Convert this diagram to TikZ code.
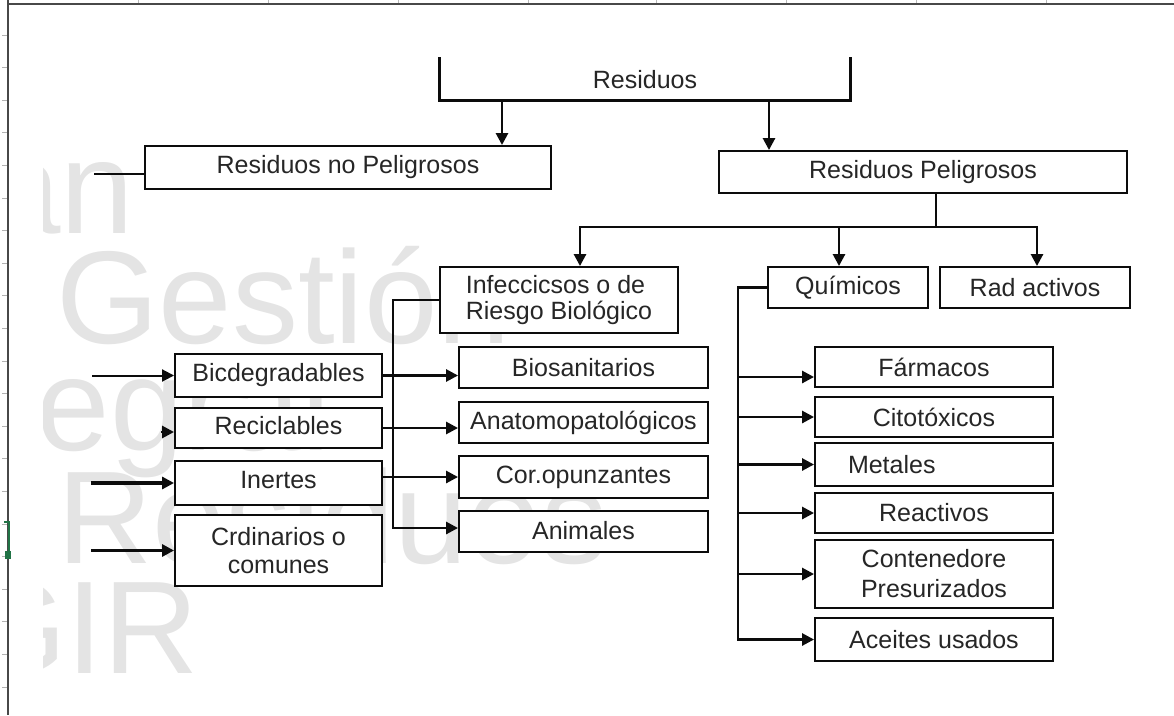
\documentclass[tikz,border=0pt]{standalone}
\usepackage{fontspec}
\setmainfont{Liberation Sans}
\usetikzlibrary{positioning,arrows.meta}
\definecolor{linea}{RGB}{12,12,12}
\definecolor{marca}{RGB}{228,228,228}
\definecolor{marco}{RGB}{72,72,72}
\definecolor{verdexl}{RGB}{33,115,70}

\begin{document}
\begin{tikzpicture}[x=1pt, y=-1pt,
    caja/.style={draw=linea, fill=white, line width=1.9pt, inner sep=0pt,
                 font=\fontsize{25}{28}\selectfont, text=black!85},
    rel/.style={line width=2.7pt, color=linea, line cap=rect},
    flecha/.style={rel, -{Triangle[length=12pt,width=12pt]}},
    fondo/.style={text=marca, font=\fontsize{132}{132}\selectfont, anchor=base west, inner sep=0pt}]
  \useasboundingbox (0,0) rectangle (1174,715);
  % hoja de calculo
  \draw[marco, line width=2pt] (8,0) -- (8,715);
  \draw[marco, line width=2pt] (8,4) -- (1174,4);
  \foreach \x in {138,268,398,528,656,786,916,1046}
    \draw[gray!55, line width=1pt] (\x,0) -- (\x,3);
  \foreach \k in {0,...,20}
    \draw[gray!60, line width=0.8pt] (2,{35+32.6*\k}) -- (7,{35+32.6*\k});
  \draw[verdexl, line width=2pt] (4,522) -- (9,522) -- (9,552);
  \fill[verdexl] (5,551) rectangle (11,559);
  % marca de agua
  \begin{scope}
    \clip (43,120) rectangle (1174,700);
    \node[fondo] (m1) at (-130,233) {Plan};
    \node[fondo] (m2) at (56,343) {Gestión};
    \node[fondo] (m3) at (-110,450) {Integral};
    \node[fondo] (m4) at (57,563) {Residuos};
    \node[fondo] (m5) at (-124,673) {PGIR};
  \end{scope}
  % nivel superior
  \node[inner sep=0pt, minimum width=410pt, minimum height=41pt,
        font=\fontsize{25}{28}\selectfont, text=black!85] (res) at (645,79.5) {Residuos};
  \draw[rel] (res.north west) -- (res.south west) -- (res.south east) -- (res.north east);
  \node[caja, minimum width=406pt, minimum height=43pt] (rnp) at (348,167.5) {Residuos no Peligrosos};
  \node[caja, minimum width=408pt, minimum height=42pt] (rp) at (923,172) {Residuos Peligrosos};
  \coordinate (f1) at (502,100);
  \coordinate (f2) at (769,100);
  \draw[flecha] (f1) -- (f1 |- rnp.north);
  \draw[flecha] (f2) -- (f2 |- rp.north);
  \coordinate (cabo) at (95,174);
  \draw[rel] (cabo) -- (cabo -| rnp.west);
  % peligrosos
  \node[caja, minimum width=238pt, minimum height=66pt, align=left,
        font=\fontsize{25}{26}\selectfont] (inf) at (559,300) {Infeccicsos o de\\Riesgo Biológico};
  \node[caja, minimum width=160pt, minimum height=41pt] (qui) at (848,287.5) {Químicos};
  \node[caja, minimum width=190pt, minimum height=41pt] (rad) at (1035,287.5) {Rad activos};
  \coordinate (rama) at (936,227);
  \coordinate (r1) at (580,227);
  \coordinate (r2) at (839,227);
  \coordinate (r3) at (1037,227);
  \draw[rel] (rp.south -| rama) -- (rama);
  \draw[rel] (r1) -- (r3);
  \draw[flecha] (r1) -- (r1 |- inf.north);
  \draw[flecha] (r2) -- (r2 |- qui.north);
  \draw[flecha] (r3) -- (r3 |- rad.north);
  % no peligrosos
  \node[caja, minimum width=207pt, minimum height=43pt] (bic) at (278.5,375.5) {Bicdegradables};
  \node[caja, minimum width=207pt, minimum height=40pt] (rec) at (278.5,428) {\raisebox{5pt}{Reciclables}};
  \node[caja, minimum width=207pt, minimum height=44pt] (ine) at (278.5,483) {\raisebox{6pt}{Inertes}};
  \node[caja, minimum width=207pt, minimum height=71pt, align=center] (ord) at (278.5,550.5) {Crdinarios o\\comunes};
  \coordinate (izq) at (93,0);
  \draw[flecha, line width=2pt] (bic.west -| izq) -- (bic.west);
  \draw[flecha] ([xshift=-5pt,yshift=-4pt]rec.west) -- ([yshift=-4pt]rec.west);
  \draw[flecha, line width=3.4pt] (ine.west -| izq) -- (ine.west);
  \draw[flecha, line width=3.4pt] (ord.west -| izq) -- (ord.west);
  % riesgo biologico
  \node[caja, minimum width=249pt, minimum height=41pt] (bio) at (583.5,367.5) {\raisebox{-7pt}{Biosanitarios}};
  \node[caja, minimum width=249pt, minimum height=41pt] (ana) at (583.5,422.5) {Anatomopatológicos};
  \node[caja, minimum width=249pt, minimum height=42pt] (cor) at (583.5,477) {Cor.opunzantes};
  \node[caja, minimum width=249pt, minimum height=41pt] (ani) at (583.5,531.5) {\raisebox{3pt}{Animales}};
  \coordinate (tronco) at (393,528);
  \draw[flecha] (inf.west) -| (tronco) -- (tronco -| ani.west);
  \draw[flecha] (bic.east) -- (bic.east -| bio.west);
  \draw[flecha] (rec.east) -- (rec.east -| ana.west);
  \draw[flecha] (cor.west -| ine.east) -- (cor.west);
  % quimicos
  \node[caja, minimum width=238pt, minimum height=40pt] (far) at (934,367) {Fármacos};
  \node[caja, minimum width=238pt, minimum height=40pt] (cit) at (934,417) {Citotóxicos};
  \node[caja, minimum width=238pt, minimum height=43pt] (met) at (934,464.5) {\makebox[172pt][l]{Metales}};
  \node[caja, minimum width=238pt, minimum height=40pt] (rea) at (934,513) {Reactivos};
  \node[caja, minimum width=238pt, minimum height=68pt, align=center,
        font=\fontsize{25}{30}\selectfont] (con) at (934,574) {Contenedore\\Presurizados};
  \node[caja, minimum width=238pt, minimum height=43pt] (ace) at (934,639.5) {Aceites usados};
  \coordinate (eje) at (738,0);
  \draw[flecha] (qui.west) -| (ace.west -| eje) -- (ace.west);
  \draw[flecha] ([yshift=-10pt]far.west -| eje) -- ([yshift=-10pt]far.west);
  \foreach \n in {cit,met,rea,con}
    \draw[flecha] (\n.west -| eje) -- (\n.west);
\end{tikzpicture}
\end{document}
